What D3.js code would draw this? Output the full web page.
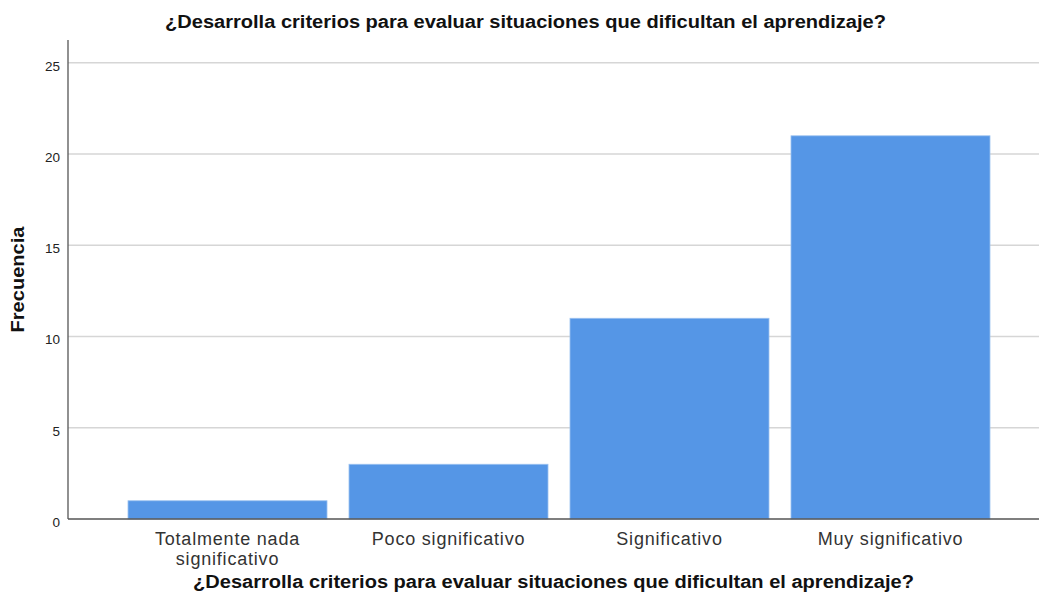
<!DOCTYPE html>
<html>
<head>
<meta charset="utf-8">
<script src="https://cdn.jsdelivr.net/npm/d3@7"></script>
<style>
  html, body { margin: 0; padding: 0; background: #fff; }
  svg { display: block; font-family: "Liberation Sans", Arial, sans-serif; }
</style>
</head>
<body>
<svg id="chart" width="1039" height="609"></svg>
<script>
const titleText = "¿Desarrolla criterios para evaluar situaciones que dificultan el aprendizaje?";
const yTitle = "Frecuencia";
const categories = [["Totalmente nada", "significativo"], ["Poco significativo"], ["Significativo"], ["Muy significativo"]];
const frequencies = [1, 3, 11, 21];
const yTicks = [0, 5, 10, 15, 20, 25];

const svg = d3.select("#chart");
const plot = { left: 68, right: 1039, top: 40, bottom: 519 };
const fontFamily = "Liberation Sans, Arial, sans-serif";

const x = d3.scaleBand()
  .domain(d3.range(categories.length))
  .range([128, 990])
  .paddingInner(0.0995)
  .paddingOuter(0);

const y = d3.scaleLinear()
  .domain([0, 26.25])
  .range([plot.bottom, plot.top]);

// horizontal grid lines
svg.append("g")
  .selectAll("line")
  .data(yTicks.filter(d => d > 0))
  .join("line")
  .attr("x1", plot.left).attr("x2", plot.right)
  .attr("y1", d => y(d)).attr("y2", d => y(d))
  .attr("stroke", "#d6d6d6")
  .attr("stroke-width", 1.6);

// bars
svg.append("g")
  .selectAll("rect")
  .data(frequencies)
  .join("rect")
  .attr("x", (d, i) => x(i))
  .attr("width", x.bandwidth())
  .attr("y", d => y(d))
  .attr("height", d => y(0) - y(d))
  .attr("fill", "#5596e6")
  .attr("stroke", "#9cc2f0")
  .attr("stroke-width", 0.8);

// y axis tick labels
const yAxis = d3.axisLeft(y).tickValues(yTicks).tickSize(0).tickPadding(8);
const yg = svg.append("g").attr("transform", `translate(${plot.left},0)`).call(yAxis);
yg.select(".domain").remove();
yg.selectAll("text")
  .attr("font-size", 13.5)
  .attr("font-family", fontFamily)
  .attr("fill", "#222")
  .attr("dy", "0.55em");

svg.append("line")
  .attr("x1", plot.left).attr("x2", plot.left)
  .attr("y1", plot.top).attr("y2", plot.bottom)
  .attr("stroke", "#555").attr("stroke-width", 1.3);

// x axis baseline
svg.append("line")
  .attr("x1", plot.left).attr("x2", plot.right)
  .attr("y1", plot.bottom).attr("y2", plot.bottom)
  .attr("stroke", "#555").attr("stroke-width", 1.3);

// category labels
const xAxis = d3.axisBottom(x).tickSize(0).tickFormat(() => "");
const xg = svg.append("g").attr("transform", `translate(0,${plot.bottom})`).call(xAxis);
xg.select(".domain").remove();
xg.selectAll(".tick text").remove();
xg.selectAll(".tick")
  .append("text")
  .attr("text-anchor", "middle")
  .attr("fill", "#333")
  .attr("font-size", 18)
  .attr("letter-spacing", 0.8)
  .attr("font-family", fontFamily)
  .selectAll("tspan")
  .data((d, i) => categories[i])
  .join("tspan")
  .attr("x", 0)
  .attr("y", (d, j) => 26 + j * 20)
  .text(d => d);

// chart title
svg.append("text")
  .attr("x", 525.5).attr("y", 28)
  .attr("text-anchor", "middle")
  .attr("font-size", 17.5)
  .attr("font-weight", "bold")
  .attr("fill", "#111")
  .attr("textLength", 721)
  .attr("lengthAdjust", "spacingAndGlyphs")
  .text(titleText);

// x axis title, centred under the plot area
svg.append("text")
  .attr("x", (plot.left + plot.right) / 2).attr("y", 588)
  .attr("text-anchor", "middle")
  .attr("font-size", 17.5)
  .attr("font-weight", "bold")
  .attr("fill", "#111")
  .attr("textLength", 721)
  .attr("lengthAdjust", "spacingAndGlyphs")
  .text(titleText);

// y axis title
svg.append("text")
  .attr("transform", `translate(24,${(plot.top + plot.bottom) / 2}) rotate(-90)`)
  .attr("text-anchor", "middle")
  .attr("font-size", 17.5)
  .attr("font-weight", "bold")
  .attr("fill", "#111")
  .attr("textLength", 106)
  .attr("lengthAdjust", "spacingAndGlyphs")
  .text(yTitle);
</script>
</body>
</html>
